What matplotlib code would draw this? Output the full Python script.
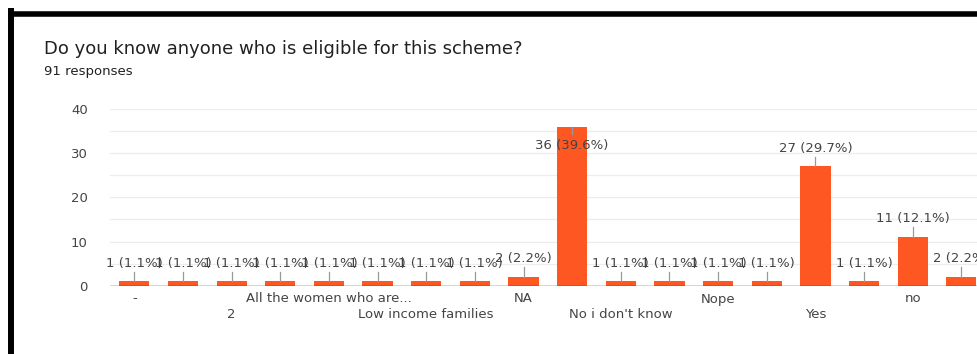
import matplotlib.pyplot as plt
from matplotlib.lines import Line2D
from matplotlib.transforms import blended_transform_factory

# survey summary for one question
question = "Do you know anyone who is eligible for this scheme?"
total_responses = 91

# answers in chart order (only every other one gets a printed label)
answers = ["-", "", "2", "", "All the women who are...", "", "Low income families", "",
           "NA", "", "No i don't know", "", "Nope", "", "Yes", "", "no", ""]
counts = [1, 1, 1, 1, 1, 1, 1, 1, 2, 36, 1, 1, 1, 1, 27, 1, 11, 2]

yticks = [0, 10, 20, 30, 40]

bar_color = "#ff5722"
text_color = "#444444"
plt.rcParams["font.family"] = ["DejaVu Sans"]

W, H = 978, 354
fig = plt.figure(figsize=(W / 100, H / 100), dpi=100)

# plot area in pixels: x from 110, y from 109 (top) to 285.7 (zero line)
left, top, zero = 110, 109, 285.7
step = 48.65
n_visible = (W - left) / step
ax = fig.add_axes([left / W, (H - zero) / H, 1 - left / W, (zero - top) / H])
plot_h = zero - top

x = list(range(len(counts)))
ax.bar(x, counts, width=0.62, color=bar_color, zorder=3)
ax.set_xlim(-0.5, -0.5 + n_visible)
ax.set_ylim(0, 40)

# light grid every 5, dark baseline
for g in range(5, 45, 5):
    ax.axhline(g, color="#ededed", lw=0.9, zorder=1)
ax.axhline(0, color="#333333", lw=1.0, zorder=4)

for s in ax.spines.values():
    s.set_visible(False)
ax.set_yticks(yticks)
ax.set_yticklabels([str(t) for t in yticks], color=text_color, fontsize=9.5)
ax.tick_params(axis="y", length=0, pad=16)
ax.set_xticks([])

# category labels on two staggered rows under the baseline
trans = blended_transform_factory(ax.transData, ax.transAxes)
for i, a in enumerate(answers):
    if not a:
        continue
    row_px = 299 if i % 4 == 0 else 315
    ax.text(i, -(row_px - zero) / plot_h, a, transform=trans, ha="center", va="center",
            fontsize=9.5, color=text_color, clip_on=False)

# value labels with a short leader line
for i, c in enumerate(counts):
    pct = c / total_responses * 100
    txt = f"{c} ({pct:.1f}%)"
    if c + 4 > 38:
        ax.plot([i, i], [c, c - 1.7], color="#999999", lw=0.9, zorder=5, clip_on=False)
        ty = c - 4.2
    else:
        ax.plot([i, i], [c, c + 2.2], color="#999999", lw=0.9, zorder=5, clip_on=False)
        ty = c + 4.1
    ax.text(i, ty, txt, ha="center", va="center", fontsize=9.5, color=text_color,
            zorder=6, clip_on=False)

# heading
fig.text(44 / W, 1 - 49 / H, question, fontsize=13, color="#202124", va="center")
fig.text(44 / W, 1 - 71 / H, f"{total_responses} responses", fontsize=9.5,
         color="#202124", va="center")

# thick black frame around the chart
fig.add_artist(Line2D([11 / W, 11 / W], [1 - 11 / H, -0.05], color="black", lw=4.3,
                      transform=fig.transFigure, solid_capstyle="projecting"))
fig.add_artist(Line2D([11 / W, 1.05], [1 - 13.5 / H, 1 - 13.5 / H], color="black", lw=4.0,
                      transform=fig.transFigure, solid_capstyle="projecting"))

fig.savefig("out.png", dpi=100)
